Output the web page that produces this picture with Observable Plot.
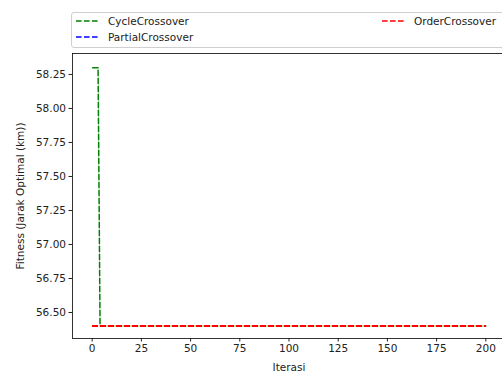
<!DOCTYPE html>
<html>
<head>
<meta charset="utf-8">
<script src="https://cdn.jsdelivr.net/npm/d3@7"></script>
<script src="https://cdn.jsdelivr.net/npm/@observablehq/plot@0.6"></script>
<style>
  html, body { margin: 0; padding: 0; background: #fff; overflow: hidden; width: 502px; height: 372px; }
  #wrap { position: relative; width: 502px; height: 372px; overflow: hidden; font-family: "DejaVu Sans", sans-serif; }
  #wrap > svg { max-width: none !important; display: block; }
  #legend { position: absolute; left: 71px; top: 12px; width: 434px; height: 36px; border: 1px solid #d0d0d0; border-radius: 3px; background: rgba(255,255,255,0.8); box-sizing: border-box; font-size: 10.5px; color: #222; }
  .item { position: absolute; display: flex; align-items: center; height: 14px; }
  .item svg { margin-right: 10px; }
</style>
</head>
<body>
<div id="wrap"></div>
<script>
// ---- data ----
const seriesNames = ["CycleCrossover", "PartialCrossover", "OrderCrossover"];
const seriesColors = ["green", "blue", "red"];
// key points of each run (iteration, best fitness); values stay flat between them
const cycleIter = [0, 3, 4, 200];
const cycleFit = [58.30, 58.30, 56.40, 56.40];
const partialIter = [0, 200];
const partialFit = [56.40, 56.40];
const orderIter = [0, 200];
const orderFit = [56.40, 56.40];
const xTicks = [0, 25, 50, 75, 100, 125, 150, 175, 200];
const yTicks = [56.50, 56.75, 57.00, 57.25, 57.50, 57.75, 58.00, 58.25];

const rows = [];
[[cycleIter, cycleFit], [partialIter, partialFit], [orderIter, orderFit]].forEach(([it, f], k) => {
  it.forEach((x, i) => rows.push({series: seriesNames[k], iter: x, fit: f[i]}));
});

const dash = "5.6,2.4";
const chart = Plot.plot({
  width: 510,
  height: 372,
  marginLeft: 72,
  marginRight: 5,
  marginTop: 53,
  marginBottom: 34,
  style: { fontFamily: "DejaVu Sans, sans-serif", fontSize: "10.5px", color: "#222", background: "white", maxWidth: "none" },
  x: { domain: [-10, 210] },
  y: { domain: [56.309, 58.404] },
  color: { domain: seriesNames, range: seriesColors },
  marks: [
    Plot.line(rows.filter(d => d.series === seriesNames[0]), { x: "iter", y: "fit", stroke: "series", strokeWidth: 1.5, strokeDasharray: dash, strokeDashoffset: 7.48 }),
    Plot.line(rows.filter(d => d.series !== seriesNames[0]), { x: "iter", y: "fit", z: "series", stroke: "series", strokeWidth: 1.5, strokeDasharray: dash, shapeRendering: "crispEdges" }),
    Plot.frame({ stroke: "#000", strokeWidth: 0.8 }),
    Plot.axisX({ ticks: xTicks, tickSize: 3.5, tickPadding: 3, tickFormat: d3.format("d"), label: "Iterasi", labelAnchor: "center", labelArrow: "none", labelOffset: 32 }),
    Plot.axisY({ ticks: yTicks, tickSize: 3.5, tickPadding: 3, tickFormat: d3.format(".2f"), label: "Fitness (Jarak Optimal (km))", labelAnchor: "center", labelArrow: "none", labelOffset: 56 })
  ]
});

const wrap = document.getElementById("wrap");
wrap.appendChild(chart);

// legend (HTML overlay above the axes)
const legend = document.createElement("div");
legend.id = "legend";
const pos = [[4, 1], [4, 17], [310, 1]];
seriesNames.forEach((name, i) => {
  const it = document.createElement("div");
  it.className = "item";
  it.style.left = pos[i][0] + "px";
  it.style.top = pos[i][1] + "px";
  it.innerHTML = `<svg width="22" height="4"><line x1="0" y1="2" x2="22" y2="2" stroke="${seriesColors[i]}" stroke-width="1.5" stroke-dasharray="${dash}"/></svg><span>${name}</span>`;
  legend.appendChild(it);
});
wrap.appendChild(legend);
</script>
</body>
</html>
